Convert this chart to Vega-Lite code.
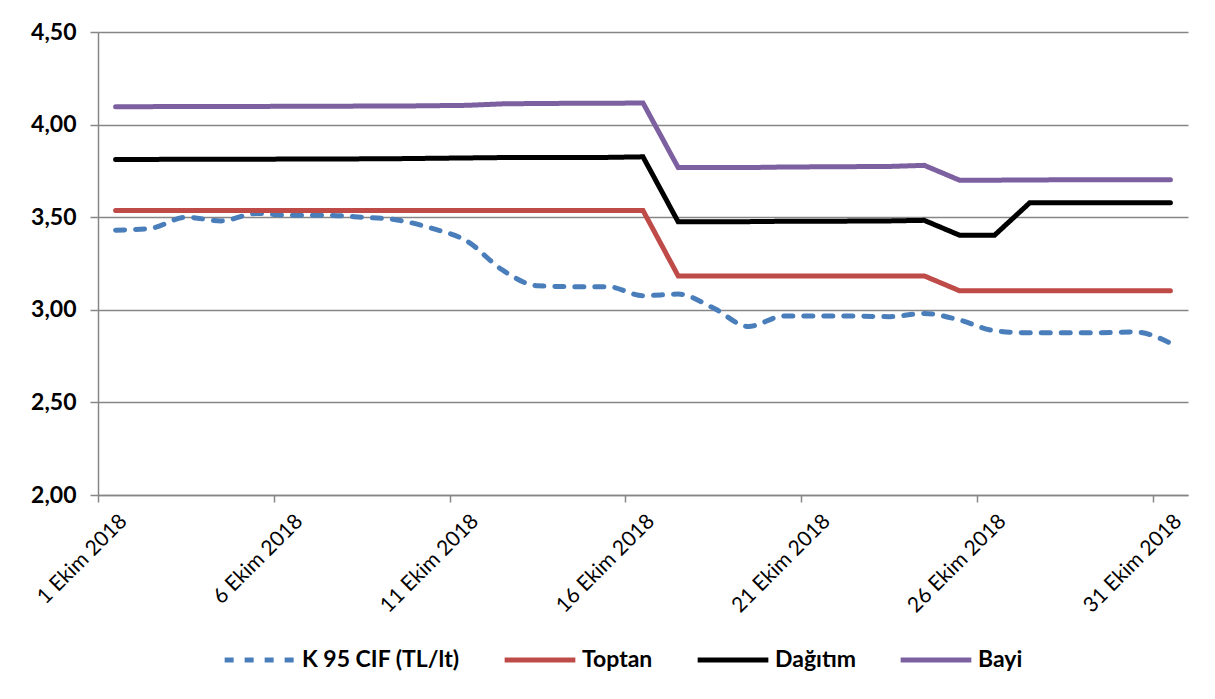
{
  "$schema": "https://vega.github.io/schema/vega-lite/v6.json",
  "width": 1090,
  "height": 463,
  "autosize": {"type": "none"},
  "padding": {"left": 98, "top": 32, "right": 27, "bottom": 204},
  "background": "white",
  "config": {"font": "Lato", "view": {"stroke": null}},
  "data": {
    "values": [
      {"day": 1, "K 95 CIF (TL/lt)": 3.43, "Toptan": 3.536, "Dağıtım": 3.812, "Bayi": 4.097},
      {"day": 2, "K 95 CIF (TL/lt)": 3.44, "Toptan": 3.536, "Dağıtım": 3.812, "Bayi": 4.097},
      {"day": 3, "K 95 CIF (TL/lt)": 3.50, "Toptan": 3.536, "Dağıtım": 3.813, "Bayi": 4.098},
      {"day": 4, "K 95 CIF (TL/lt)": 3.48, "Toptan": 3.536, "Dağıtım": 3.813, "Bayi": 4.098},
      {"day": 5, "K 95 CIF (TL/lt)": 3.52, "Toptan": 3.536, "Dağıtım": 3.813, "Bayi": 4.098},
      {"day": 6, "K 95 CIF (TL/lt)": 3.51, "Toptan": 3.536, "Dağıtım": 3.814, "Bayi": 4.099},
      {"day": 7, "K 95 CIF (TL/lt)": 3.51, "Toptan": 3.536, "Dağıtım": 3.814, "Bayi": 4.099},
      {"day": 8, "K 95 CIF (TL/lt)": 3.50, "Toptan": 3.536, "Dağıtım": 3.815, "Bayi": 4.100},
      {"day": 9, "K 95 CIF (TL/lt)": 3.485, "Toptan": 3.536, "Dağıtım": 3.816, "Bayi": 4.100},
      {"day": 10, "K 95 CIF (TL/lt)": 3.44, "Toptan": 3.536, "Dağıtım": 3.818, "Bayi": 4.102},
      {"day": 11, "K 95 CIF (TL/lt)": 3.37, "Toptan": 3.536, "Dağıtım": 3.820, "Bayi": 4.104},
      {"day": 12, "K 95 CIF (TL/lt)": 3.215, "Toptan": 3.536, "Dağıtım": 3.822, "Bayi": 4.112},
      {"day": 13, "K 95 CIF (TL/lt)": 3.13, "Toptan": 3.536, "Dağıtım": 3.823, "Bayi": 4.114},
      {"day": 14, "K 95 CIF (TL/lt)": 3.125, "Toptan": 3.536, "Dağıtım": 3.823, "Bayi": 4.115},
      {"day": 15, "K 95 CIF (TL/lt)": 3.125, "Toptan": 3.536, "Dağıtım": 3.823, "Bayi": 4.115},
      {"day": 16, "K 95 CIF (TL/lt)": 3.076, "Toptan": 3.536, "Dağıtım": 3.826, "Bayi": 4.117},
      {"day": 17, "K 95 CIF (TL/lt)": 3.085, "Toptan": 3.183, "Dağıtım": 3.475, "Bayi": 3.768},
      {"day": 18, "K 95 CIF (TL/lt)": 3.01, "Toptan": 3.183, "Dağıtım": 3.476, "Bayi": 3.768},
      {"day": 19, "K 95 CIF (TL/lt)": 2.91, "Toptan": 3.183, "Dağıtım": 3.476, "Bayi": 3.768},
      {"day": 20, "K 95 CIF (TL/lt)": 2.966, "Toptan": 3.183, "Dağıtım": 3.478, "Bayi": 3.771},
      {"day": 21, "K 95 CIF (TL/lt)": 2.966, "Toptan": 3.183, "Dağıtım": 3.478, "Bayi": 3.772},
      {"day": 22, "K 95 CIF (TL/lt)": 2.966, "Toptan": 3.183, "Dağıtım": 3.479, "Bayi": 3.773},
      {"day": 23, "K 95 CIF (TL/lt)": 2.963, "Toptan": 3.183, "Dağıtım": 3.480, "Bayi": 3.774},
      {"day": 24, "K 95 CIF (TL/lt)": 2.98, "Toptan": 3.183, "Dağıtım": 3.483, "Bayi": 3.780},
      {"day": 25, "K 95 CIF (TL/lt)": 2.945, "Toptan": 3.103, "Dağıtım": 3.403, "Bayi": 3.700},
      {"day": 26, "K 95 CIF (TL/lt)": 2.887, "Toptan": 3.103, "Dağıtım": 3.403, "Bayi": 3.700},
      {"day": 27, "K 95 CIF (TL/lt)": 2.876, "Toptan": 3.103, "Dağıtım": 3.578, "Bayi": 3.701},
      {"day": 28, "K 95 CIF (TL/lt)": 2.876, "Toptan": 3.103, "Dağıtım": 3.578, "Bayi": 3.702},
      {"day": 29, "K 95 CIF (TL/lt)": 2.876, "Toptan": 3.103, "Dağıtım": 3.578, "Bayi": 3.702},
      {"day": 30, "K 95 CIF (TL/lt)": 2.88, "Toptan": 3.103, "Dağıtım": 3.578, "Bayi": 3.702},
      {"day": 31, "K 95 CIF (TL/lt)": 2.82, "Toptan": 3.103, "Dağıtım": 3.578, "Bayi": 3.702}
    ]
  },
  "transform": [
    {"fold": ["K 95 CIF (TL/lt)", "Toptan", "Dağıtım", "Bayi"], "as": ["series", "value"]}
  ],
  "encoding": {
    "x": {
      "field": "day",
      "type": "quantitative",
      "scale": {"domain": [0.5, 31.5], "nice": false, "zero": false},
      "axis": {
        "title": null,
        "values": [0.5, 1, 5.5, 6, 10.5, 11, 15.5, 16, 20.5, 21, 25.5, 26, 30.5, 31],
        "labelExpr": "datum.value % 1 == 0 ? datum.value + ' Ekim 2018' : ''",
        "labelAngle": -45,
        "labelFontSize": 21,
        "labelColor": "#000000",
        "labelPadding": 8,
        "labelOverlap": false,
        "labelFlush": false,
        "labelBound": false,
        "tickSize": 7,
        "tickColor": "#868686",
        "tickWidth": 1.5,
        "tickOpacity": {"condition": {"test": "datum.value % 1 == 0", "value": 0}, "value": 1},
        "domainColor": "#868686",
        "domainWidth": 1.5,
        "grid": false
      }
    },
    "y": {
      "field": "value",
      "type": "quantitative",
      "scale": {"domain": [2, 4.5], "nice": false, "zero": false},
      "axis": {
        "title": null,
        "values": [2, 2.5, 3, 3.5, 4, 4.5],
        "labelExpr": "replace(format(datum.value, '.2f'), '.', ',')",
        "labelFontSize": 23,
        "labelFontWeight": "bold",
        "labelColor": "#000000",
        "labelPadding": 14,
        "tickSize": 8,
        "tickColor": "#868686",
        "tickWidth": 1.5,
        "domainColor": "#868686",
        "domainWidth": 1.5,
        "gridColor": "#868686",
        "gridWidth": 1.5
      }
    },
    "color": {
      "field": "series",
      "type": "nominal",
      "scale": {
        "domain": ["K 95 CIF (TL/lt)", "Toptan", "Dağıtım", "Bayi"],
        "range": ["#4A7EBB", "#BE4B48", "#000000", "#7D60A0"]
      },
      "legend": {
        "title": null,
        "orient": "none",
        "legendX": 124,
        "legendY": 590,
        "direction": "horizontal",
        "symbolType": "stroke",
        "symbolSize": 5000,
        "symbolStrokeWidth": 5,
        "labelFontSize": 23,
        "labelFontWeight": "bold",
        "labelColor": "#000000",
        "labelLimit": 0,
        "labelOffset": 4,
        "columnPadding": 34,
        "padding": 0
      }
    },
    "strokeDash": {
      "field": "series",
      "type": "nominal",
      "scale": {
        "domain": ["K 95 CIF (TL/lt)", "Toptan", "Dağıtım", "Bayi"],
        "range": [[9, 11], [1, 0], [1, 0], [1, 0]]
      },
      "legend": {
        "title": null,
        "orient": "none",
        "legendX": 124,
        "legendY": 590,
        "direction": "horizontal",
        "symbolType": "stroke",
        "symbolSize": 5000,
        "symbolStrokeWidth": 5,
        "labelFontSize": 23,
        "labelFontWeight": "bold",
        "labelColor": "#000000",
        "labelLimit": 0,
        "labelOffset": 4,
        "columnPadding": 34,
        "padding": 0
      }
    }
  },
  "layer": [
    {
      "transform": [{"filter": "datum.series == 'K 95 CIF (TL/lt)'"}],
      "mark": {"type": "line", "interpolate": "monotone", "strokeWidth": 5, "strokeCap": "round"}
    },
    {
      "transform": [{"filter": "datum.series != 'K 95 CIF (TL/lt)'"}],
      "mark": {"type": "line", "strokeWidth": 5, "strokeCap": "round"}
    }
  ]
}
